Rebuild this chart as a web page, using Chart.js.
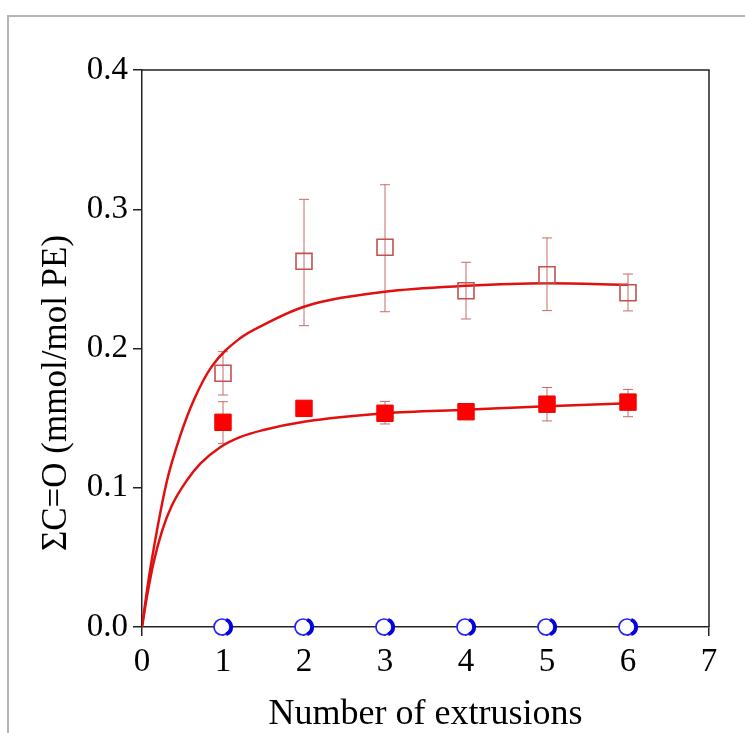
<!DOCTYPE html>
<html>
<head>
<meta charset="utf-8">
<script src="https://cdn.jsdelivr.net/npm/chart.js@4.4.0/dist/chart.umd.min.js"></script>
<style>
  body { margin: 0; background: #fff; overflow: hidden; }
  #frame { position: absolute; left: 7px; top: 15px; width: 800px; height: 800px; border: 2px solid #b4b4b4; }
  #wrap { position: absolute; left: 0; top: 0; width: 745px; height: 733px; }
</style>
</head>
<body>
<div id="frame"></div>
<div id="wrap"><canvas id="grafico" width="745" height="733"></canvas></div>
<script>
// puntos medidos
const extrusiones = [1, 2, 3, 4, 5, 6];
const abiertos = [0.1822, 0.2626, 0.2727, 0.2415, 0.253, 0.240];
const abiertosAlto = [0.1977, 0.3071, 0.3176, 0.2619, 0.2794, 0.2535];
const abiertosBajo = [0.1666, 0.2164, 0.2264, 0.2212, 0.2272, 0.227];
const llenos = [0.147, 0.157, 0.1535, 0.1546, 0.160, 0.1615];
const llenosAlto = [0.1618, null, 0.162, 0.158, 0.172, 0.1706];
const llenosBajo = [0.1319, null, 0.1458, 0.151, 0.148, 0.151];
const azules = [0, 0, 0, 0, 0, 0];

// curvas de ajuste
const ajusteAltoX = [0, 0.08, 0.185, 0.31, 0.47, 0.64, 0.86, 1.21, 1.5, 2, 3, 4, 5, 6];
const ajusteAltoY = [0, 0.0335, 0.0694, 0.1054, 0.137, 0.163, 0.187, 0.2073, 0.217, 0.230, 0.2408, 0.245, 0.2468, 0.2458];
const ajusteBajoX = [0, 0.06, 0.14, 0.25, 0.37, 0.555, 0.72, 0.97, 1.21, 1.5, 2, 3, 4, 5, 6];
const ajusteBajoY = [0, 0.0215, 0.0455, 0.0694, 0.0874, 0.1054, 0.1173, 0.1293, 0.1364, 0.1415, 0.1474, 0.1535, 0.156, 0.1585, 0.1606];

const ticksX = [0, 1, 2, 3, 4, 5, 6, 7];
const ticksY = [0.0, 0.1, 0.2, 0.3, 0.4];

const fuente = '"Liberation Serif", "Times New Roman", serif';

function pares(xs, ys) {
    return xs.map((x, i) => ({ x: x, y: ys[i] }));
}

// circulo azul con borde mas grueso a la derecha
function circuloAzul() {
    const c = document.createElement('canvas');
    c.width = 32; c.height = 22;
    const g = c.getContext('2d');
    g.fillStyle = '#fff';
    g.strokeStyle = '#2020ff';
    g.lineWidth = 1.7;
    g.beginPath(); g.arc(15, 11, 8, 0, Math.PI * 2); g.fill(); g.stroke();
    g.lineWidth = 3.6;
    g.strokeStyle = '#0000e0';
    g.beginPath(); g.arc(16.8, 11, 7.6, -Math.PI * 0.4, Math.PI * 0.4); g.stroke();
    return c;
}

const barrasError = {
    id: 'barrasError',
    beforeDatasetsDraw(chart) {
        const ctx = chart.ctx;
        const sx = chart.scales.x, sy = chart.scales.y;
        const grupos = [
            { alto: abiertosAlto, bajo: abiertosBajo, color: '#c86a6a' },
            { alto: llenosAlto, bajo: llenosBajo, color: '#c86a6a' }
        ];
        ctx.save();
        ctx.lineWidth = 1;
        grupos.forEach(gr => {
            ctx.strokeStyle = gr.color;
            extrusiones.forEach((x, i) => {
                if (gr.alto[i] == null) return;
                const px = sx.getPixelForValue(x);
                const ya = sy.getPixelForValue(gr.alto[i]);
                const yb = sy.getPixelForValue(gr.bajo[i]);
                ctx.beginPath();
                ctx.moveTo(px, ya); ctx.lineTo(px, yb);
                ctx.moveTo(px - 5, ya); ctx.lineTo(px + 5, ya);
                ctx.moveTo(px - 5, yb); ctx.lineTo(px + 5, yb);
                ctx.stroke();
            });
        });
        ctx.restore();
    },
    afterDraw(chart) {
        const ctx = chart.ctx;
        const a = chart.chartArea;
        ctx.save();
        ctx.strokeStyle = '#222';
        ctx.lineWidth = 1.5;
        ctx.beginPath();
        ctx.moveTo(a.left, a.top); ctx.lineTo(a.right, a.top); ctx.lineTo(a.right, a.bottom);
        ctx.stroke();
        // titulo del eje y
        ctx.translate(57, 393);
        ctx.rotate(-Math.PI / 2);
        ctx.fillStyle = '#000';
        ctx.font = '35px ' + fuente;
        ctx.textAlign = 'center';
        ctx.textBaseline = 'middle';
        ctx.fillText('ΣC=O (mmol/mol PE)', 0, 0);
        ctx.restore();
    }
};

const ctx = document.getElementById('grafico').getContext('2d');
const chart = new Chart(ctx, {
    type: 'scatter',
    data: {
        datasets: [
            {
                label: 'abiertos',
                data: pares(extrusiones, abiertos),
                pointStyle: 'rect',
                pointRadius: 11.3,
                pointBackgroundColor: 'rgba(255,255,255,0)',
                pointBorderColor: '#c45050',
                pointBorderWidth: 1.6,
                order: 1
            },
            {
                label: 'llenos',
                data: pares(extrusiones, llenos),
                pointStyle: 'rect',
                pointRadius: 11.6,
                pointBackgroundColor: '#ff0000',
                pointBorderColor: '#ee0000',
                pointBorderWidth: 1,
                order: 2
            },
            {
                label: 'azules',
                data: pares(extrusiones, azules),
                pointStyle: circuloAzul(),
                clip: false,
                order: 0
            },
            {
                label: 'ajuste alto',
                data: pares(ajusteAltoX, ajusteAltoY),
                showLine: true,
                borderColor: '#e01010',
                borderWidth: 2.5,
                pointRadius: 0,
                cubicInterpolationMode: 'monotone',
                order: 5
            },
            {
                label: 'ajuste bajo',
                data: pares(ajusteBajoX, ajusteBajoY),
                showLine: true,
                borderColor: '#e01010',
                borderWidth: 2.5,
                pointRadius: 0,
                cubicInterpolationMode: 'monotone',
                order: 6
            }
        ]
    },
    options: {
        responsive: false,
        animation: false,
        layout: { padding: { top: 70, right: 36, left: 0, bottom: 0 } },
        plugins: {
            legend: { display: false },
            tooltip: { enabled: false }
        },
        scales: {
            x: {
                type: 'linear',
                min: 0,
                max: 7,
                afterBuildTicks: s => { s.ticks = ticksX.map(v => ({ value: v })); },
                afterFit: s => { s.height = 106; },
                border: { color: '#222', width: 1.5 },
                grid: { drawOnChartArea: false, drawTicks: true, tickLength: 9, color: '#222', lineWidth: 1.5 },
                ticks: { color: '#000', font: { family: fuente, size: 33 }, padding: 7, callback: v => v },
                title: { display: true, text: 'Number of extrusions', color: '#000', font: { family: fuente, size: 36 }, padding: { top: 4, bottom: -3 } }
            },
            y: {
                min: 0,
                max: 0.4,
                afterBuildTicks: s => { s.ticks = ticksY.map(v => ({ value: v })); },
                afterFit: s => { s.width = 142; },
                border: { color: '#222', width: 1.5 },
                grid: { drawOnChartArea: false, drawTicks: true, tickLength: 9, color: '#222', lineWidth: 1.5 },
                ticks: { color: '#000', font: { family: fuente, size: 33 }, padding: 5, callback: v => v.toFixed(1) }
            }
        }
    },
    plugins: [barrasError]
});
</script>
</body>
</html>
